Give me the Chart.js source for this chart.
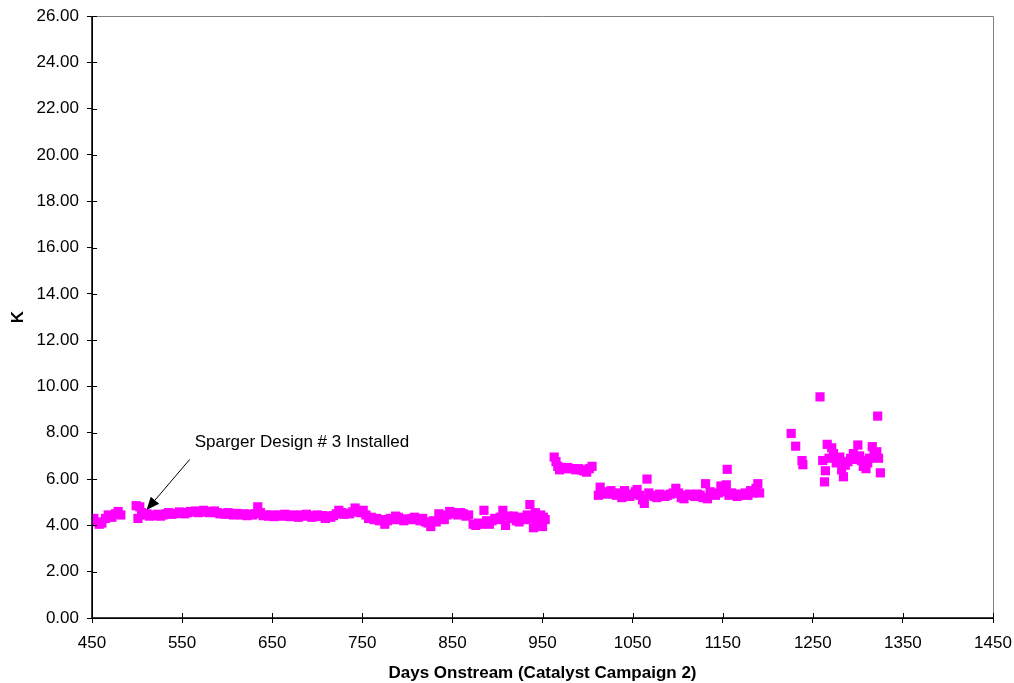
<!DOCTYPE html>
<html>
<head>
<meta charset="utf-8">
<script src="https://cdn.jsdelivr.net/npm/chart.js@4.4.1/dist/chart.umd.min.js"></script>
<style>
html,body{margin:0;padding:0;background:#fff;}
#wrap{width:1014px;height:683px;}
</style>
</head>
<body>
<div id="wrap"><canvas id="c" width="1014" height="683"></canvas></div>
<script>
// ---- Data ----
const days = [
  450,452,455,458,461,465,468,472,476,479,482,
  499,501,503,505,508,511,514,517,520,523,526,529,532,535,538,541,544,547,550,553,556,559,562,565,568,571,574,577,580,583,586,589,592,595,598,601,604,607,610,613,616,619,622,625,628,631,634,637,640,643,646,649,652,655,658,661,664,667,670,673,676,679,682,685,688,691,694,697,700,703,706,709,712,715,718,721,724,727,730,733,736,739,742,745,748,751,754,757,760,763,766,769,772,775,778,781,784,787,790,793,796,799,802,805,808,811,814,817,820,823,826,829,832,835,838,841,844,847,850,853,856,859,862,865,868,
  873,876,879,882,885,888,891,894,897,900,903,906,909,912,915,918,921,924,927,930,933,936,938,940,942,944,946,948,950,951,953,
  963,965,967,969,972,975,978,981,984,987,990,993,996,999,1002,1005,
  1012,1014,1017,1020,1023,1026,1029,1032,1035,1038,1041,1044,1047,1050,1053,1055,1058,1061,1063,1066,1068,1071,1074,1077,1080,1083,1086,1089,1092,1095,1098,1101,1104,1107,1110,1113,1116,1119,1122,1125,1128,1131,1133,1136,1139,1142,1145,1148,1151,1154,1155,1157,1160,1163,1166,1169,1172,1175,1178,1181,1184,1187,1189,1191,
  1226,1231,1238,1239,1258,1261,1263,1264,1266,1268,1271,1273,1276,1278,1280,1282,1284,1286,1289,1292,1295,1297,1300,1302,1304,1306,1309,1311,1313,1316,1318,1321,1322,1323,1325
];
const kValues = [
  4.25,4.30,4.15,4.05,4.10,4.30,4.45,4.35,4.50,4.60,4.45,
  4.85,4.30,4.80,4.55,4.45,4.50,4.40,4.45,4.42,4.48,4.40,4.45,4.50,4.55,4.48,4.50,4.52,4.58,4.55,4.50,4.55,4.60,4.58,4.62,4.55,4.60,4.65,4.58,4.55,4.60,4.62,4.55,4.50,4.52,4.48,4.55,4.50,4.45,4.52,4.48,4.45,4.50,4.42,4.48,4.45,4.50,4.80,4.55,4.42,4.45,4.40,4.45,4.38,4.42,4.45,4.40,4.48,4.42,4.38,4.45,4.40,4.35,4.45,4.40,4.48,4.42,4.35,4.40,4.45,4.38,4.42,4.30,4.40,4.35,4.42,4.50,4.65,4.55,4.48,4.52,4.50,4.58,4.75,4.60,4.55,4.65,4.45,4.30,4.35,4.25,4.30,4.20,4.25,4.05,4.20,4.30,4.25,4.40,4.35,4.25,4.20,4.28,4.25,4.30,4.35,4.25,4.20,4.30,4.15,4.10,3.95,4.20,4.15,4.50,4.35,4.25,4.45,4.60,4.55,4.50,4.45,4.55,4.50,4.40,4.45,
  4.05,4.00,4.10,4.05,4.65,4.20,4.05,4.20,4.30,4.25,4.35,4.65,4.00,4.40,4.30,4.40,4.20,4.15,4.35,4.25,4.45,4.90,4.30,3.90,4.55,4.20,4.00,4.45,3.95,4.35,4.25,
  6.95,6.75,6.55,6.40,6.50,6.45,6.50,6.45,6.45,6.40,6.45,6.40,6.35,6.30,6.45,6.55,
  5.30,5.65,5.40,5.35,5.45,5.50,5.35,5.30,5.40,5.20,5.50,5.30,5.25,5.35,5.45,5.55,5.30,5.10,4.95,6.00,5.40,5.30,5.25,5.20,5.35,5.30,5.25,5.30,5.35,5.40,5.60,5.40,5.20,5.15,5.30,5.35,5.30,5.25,5.35,5.30,5.20,5.80,5.15,5.45,5.35,5.30,5.40,5.70,5.45,5.75,6.42,5.30,5.40,5.35,5.25,5.30,5.35,5.40,5.30,5.50,5.40,5.60,5.80,5.40,
  7.97,7.42,6.80,6.62,9.55,6.80,5.88,6.36,7.50,6.90,7.35,7.10,6.70,6.85,6.95,6.40,6.10,6.60,6.75,6.90,7.10,6.85,7.47,7.00,6.80,6.55,6.45,6.70,6.90,7.40,7.05,7.18,8.72,6.90,6.27
];
const xTicks = [450,550,650,750,850,950,1050,1150,1250,1350,1450];
const yTicks = [0,2,4,6,8,10,12,14,16,18,20,22,24,26];
const xTitle = 'Days Onstream (Catalyst Campaign 2)';
const yTitle = 'K';
const annotationText = 'Sparger Design # 3 Installed';
const annotationTip = {x: 510.5, y: 4.66};
const annotationTail = {x: 558.5, y: 6.85};
const annotationTextPos = {x: 564, y: 7.38};

const points = days.map((d, i) => ({x: d, y: kValues[i]}));
const FONT = 'Arial, "Liberation Sans", sans-serif';

const frame = {
  id: 'frame',
  afterDraw(chart) {
    const ctx = chart.ctx, a = chart.chartArea;
    const xs = chart.scales.x, ys = chart.scales.y;
    ctx.save();
    // gray plot border top/right
    ctx.strokeStyle = '#808080';
    ctx.lineWidth = 1;
    ctx.beginPath();
    ctx.moveTo(a.left, Math.round(a.top) + 0.5);
    ctx.lineTo(Math.round(a.right) + 0.5, Math.round(a.top) + 0.5);
    ctx.lineTo(Math.round(a.right) + 0.5, a.bottom);
    ctx.stroke();
    // inner halves of cross ticks
    ctx.strokeStyle = '#000';
    ctx.beginPath();
    xTicks.forEach(t => {
      const px = Math.round(xs.getPixelForValue(t)) + 0.5;
      ctx.moveTo(px, a.bottom);
      ctx.lineTo(px, a.bottom - 5);
    });
    yTicks.forEach(t => {
      const py = Math.round(ys.getPixelForValue(t)) + 0.5;
      ctx.moveTo(a.left, py);
      ctx.lineTo(a.left + 5, py);
    });
    ctx.stroke();
    // axes in black
    ctx.lineWidth = 1.5;
    ctx.beginPath();
    ctx.moveTo(a.left, a.top);
    ctx.lineTo(a.left, a.bottom);
    ctx.lineTo(a.right, a.bottom);
    ctx.stroke();
    // annotation
    const tx = xs.getPixelForValue(annotationTip.x), ty = ys.getPixelForValue(annotationTip.y);
    const sx = xs.getPixelForValue(annotationTail.x), sy = ys.getPixelForValue(annotationTail.y);
    const ang = Math.atan2(ty - sy, tx - sx);
    const hl = 13, hw = 5.5;
    const bx = tx - hl * Math.cos(ang), by = ty - hl * Math.sin(ang);
    ctx.lineWidth = 1;
    ctx.beginPath();
    ctx.moveTo(sx, sy);
    ctx.lineTo(bx, by);
    ctx.stroke();
    ctx.fillStyle = '#000';
    ctx.beginPath();
    ctx.moveTo(tx, ty);
    ctx.lineTo(bx + hw * Math.sin(ang), by - hw * Math.cos(ang));
    ctx.lineTo(bx - hw * Math.sin(ang), by + hw * Math.cos(ang));
    ctx.closePath();
    ctx.fill();
    ctx.font = '17px ' + FONT;
    ctx.textBaseline = 'alphabetic';
    ctx.textAlign = 'left';
    ctx.fillText(annotationText, xs.getPixelForValue(annotationTextPos.x), ys.getPixelForValue(annotationTextPos.y));
    ctx.restore();
  }
};

new Chart(document.getElementById('c'), {
  type: 'scatter',
  data: {
    datasets: [{
      data: points,
      pointStyle: 'rect',
      pointRadius: 6.5,
      pointHoverRadius: 6.5,
      backgroundColor: '#FF00FF',
      borderColor: '#FF00FF',
      borderWidth: 0
    }]
  },
  options: {
    responsive: false,
    animation: false,
    events: [],
    layout: {padding: {top: 16, right: 21, left: 0, bottom: 0}},
    plugins: {legend: {display: false}, tooltip: {enabled: false}},
    scales: {
      x: {
        type: 'linear',
        min: 450, max: 1450,
        afterFit(s) { s.height = 65; s.paddingLeft = 0; s.paddingRight = 0; },
        afterBuildTicks(s) { s.ticks = xTicks.map(v => ({value: v})); },
        grid: {display: true, drawOnChartArea: false, drawTicks: true, tickLength: 5, color: '#000'},
        border: {display: true, color: '#000', width: 1},
        ticks: {color: '#000', font: {family: FONT, size: 17}, padding: 10, maxRotation: 0, autoSkip: false, callback: v => String(v)},
        title: {display: true, text: xTitle, color: '#000', font: {family: FONT, size: 17, weight: 'bold', lineHeight: 1.1}, padding: {top: 0, bottom: 0}}
      },
      y: {
        type: 'linear',
        min: 0, max: 26,
        afterFit(s) { s.width = 92; s.paddingTop = 0; s.paddingBottom = 0; },
        afterBuildTicks(s) { s.ticks = yTicks.map(v => ({value: v})); },
        grid: {display: true, drawOnChartArea: false, drawTicks: true, tickLength: 5, color: '#000'},
        border: {display: true, color: '#000', width: 1},
        ticks: {color: '#000', font: {family: FONT, size: 17}, padding: 8, callback: v => Number(v).toFixed(2)},
        title: {display: true, text: yTitle, color: '#000', font: {family: FONT, size: 17, weight: 'bold'}, padding: {top: 8, bottom: 0}}
      }
    }
  },
  plugins: [frame]
});
</script>
</body>
</html>
